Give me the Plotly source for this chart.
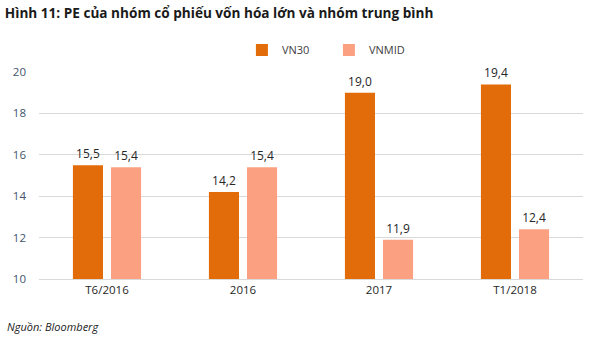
import plotly.graph_objects as go

categories = ["T6/2016", "2016", "2017", "T1/2018"]
vn30 = [15.5, 14.2, 19.0, 19.4]
vnmid = [15.4, 15.4, 11.9, 12.4]
y_ticks = [10, 12, 14, 16, 18, 20]


def fmt(v):
    return f"{v:.1f}".replace(".", ",")


fig = go.Figure()
fig.add_trace(go.Bar(
    name="VN30", x=categories, y=vn30,
    marker=dict(color="#E36C0A", line=dict(width=0)),
    text=[fmt(v) for v in vn30], textposition="outside",
    textfont=dict(size=12, color="#262626"), cliponaxis=False,
))
fig.add_trace(go.Bar(
    name="VNMID", x=categories, y=vnmid,
    marker=dict(color="#FBA182", line=dict(width=0)),
    text=[fmt(v) for v in vnmid], textposition="outside",
    textfont=dict(size=12, color="#262626"), cliponaxis=False,
))

fig.update_layout(
    width=607, height=343,
    margin=dict(l=39, r=24, t=72, b=64),
    paper_bgcolor="white", plot_bgcolor="white",
    font=dict(family="Open Sans, Lato, sans-serif", size=11, color="#404040"),
    barmode="group", bargap=0.44, bargroupgap=0.21,
    showlegend=True,
    legend=dict(orientation="h", x=0.373, xanchor="left", y=1.106, yanchor="middle",
                font=dict(size=11, color="#404040"), itemwidth=30,
                entrywidth=42, entrywidthmode="pixels",
                traceorder="normal", itemclick=False),
    title=dict(text="<b>Hình 11: PE của nhóm cổ phiếu vốn hóa lớn và nhóm trung bình</b>",
               x=0.008, xanchor="left", y=0.962, yanchor="middle",
               font=dict(size=13.6, color="#1a1a1a", family="Open Sans, sans-serif")),
    uniformtext=dict(mode="show", minsize=11),
)
fig.update_yaxes(range=[10, 20], tickvals=y_ticks, ticktext=[str(t) for t in y_ticks],
                 showgrid=True, gridcolor="#D9D9D9", gridwidth=1, zeroline=False,
                 showline=False, ticks="", ticklabelstandoff=12,
                 tickfont=dict(size=11.5, color="#44546A"))
fig.update_xaxes(showline=True, linecolor="#D9D9D9", ticks="",
                 tickfont=dict(size=11.5, color="#262626"))

fig.add_annotation(text="<i>Nguồn: Bloomberg</i>", xref="paper", yref="paper",
                   x=-0.062, y=-0.23, xanchor="left", yanchor="middle", showarrow=False,
                   font=dict(size=11, color="#1a1a1a"))

fig.write_html("out.html")
